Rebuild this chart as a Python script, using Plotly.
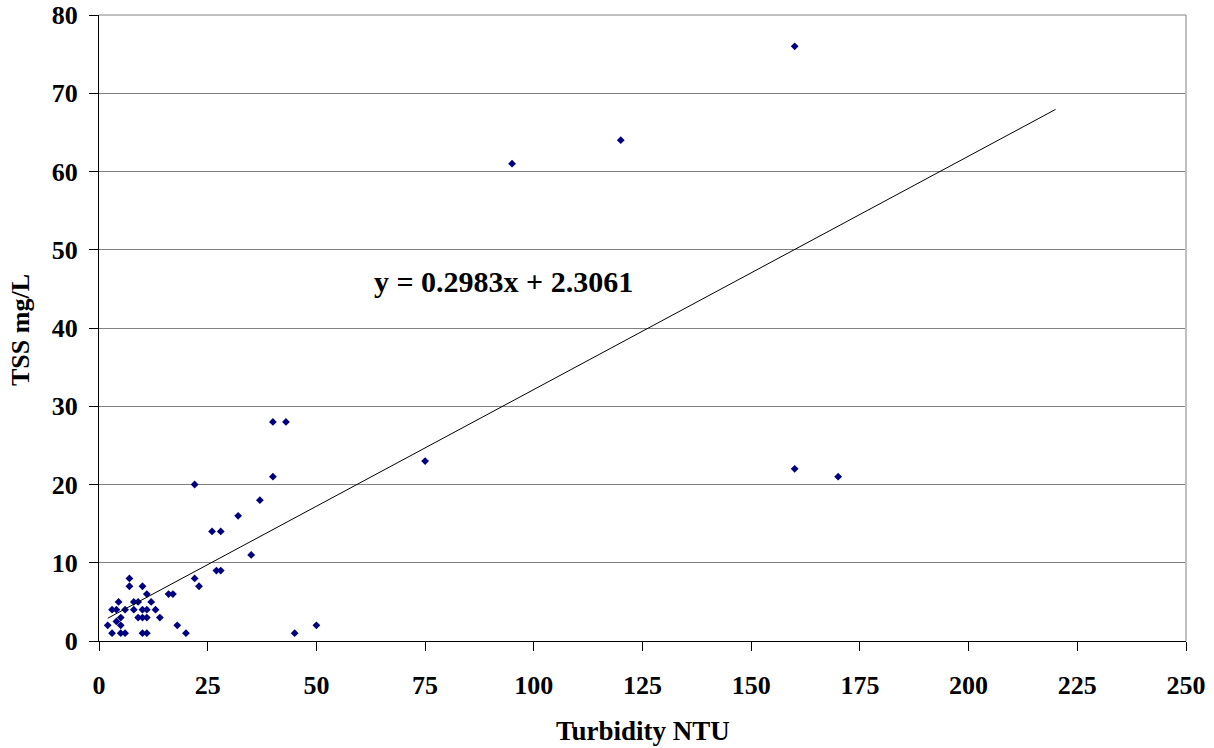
import plotly.graph_objects as go

turbidity_ntu = [2, 3, 3, 4, 4, 4.5, 5, 5, 5, 6, 6, 7, 7, 8, 8, 9, 9, 10, 10, 10, 10,
                 11, 11, 11, 11, 12, 13, 14, 16, 17, 18, 20, 22, 23, 22, 26, 28, 27, 28,
                 32, 35, 37, 40, 40, 43, 45, 50, 75, 95, 120, 160, 160, 170]
tss_mg_l = [2, 1, 4, 4, 2.5, 5, 3, 2, 1, 1, 4, 7, 8, 5, 4, 5, 3, 7, 4, 3, 1,
            4, 3, 1, 6, 5, 4, 3, 6, 6, 2, 1, 8, 7, 20, 14, 14, 9, 9,
            16, 11, 18, 21, 28, 28, 1, 2, 23, 61, 64, 76, 22, 21]

trend_slope = 0.2983
trend_intercept = 2.3061
trend_x = [2, 220]
trend_y = [trend_slope * v + trend_intercept for v in trend_x]
equation_text = "y = 0.2983x + 2.3061"

x_ticks = [0, 25, 50, 75, 100, 125, 150, 175, 200, 225, 250]
y_ticks = [0, 10, 20, 30, 40, 50, 60, 70, 80]
x_title = "Turbidity NTU"
y_title = "TSS mg/L"

FONT = "Liberation Serif"

# plot area at page x 99..1186, y 15..641
PW, PH = 1087, 626

fig = go.Figure()
fig.add_trace(go.Scatter(
    x=turbidity_ntu, y=tss_mg_l, mode="markers",
    marker=dict(symbol="diamond", size=6, color="#000080"),
    showlegend=False, hoverinfo="x+y"))
fig.add_trace(go.Scatter(
    x=trend_x, y=trend_y, mode="lines",
    line=dict(color="black", width=1), showlegend=False, hoverinfo="skip"))

fig.add_annotation(x=93.0, y=46.0, xref="x", yref="y", text="<b>" + equation_text + "</b>",
                   showarrow=False, font=dict(family=FONT, size=30, color="black"))
fig.add_annotation(x=(642.5 - 99) / PW, y=(641 - 731) / PH, xref="paper", yref="paper",
                   text="<b>" + x_title + "</b>", showarrow=False,
                   xanchor="center", yanchor="middle",
                   font=dict(family=FONT, size=27, color="black"))
fig.add_annotation(x=(21 - 99) / PW, y=(641 - 330) / PH, xref="paper", yref="paper",
                   text="<b>" + y_title + "</b>", showarrow=False, textangle=-90,
                   xanchor="center", yanchor="middle",
                   font=dict(family=FONT, size=26, color="black"))

fig.update_layout(
    width=1214, height=748,
    margin=dict(l=99, r=28, t=15, b=107, autoexpand=False),
    paper_bgcolor="white", plot_bgcolor="white",
    font=dict(family=FONT, color="black"),
    xaxis=dict(range=[0, 250], tickvals=x_ticks, ticktext=["<b>%d</b>" % v for v in x_ticks],
               showgrid=False, zeroline=False, showline=True, linecolor="black", linewidth=1,
               ticks="outside", ticklen=9, tickcolor="black", tickwidth=1,
               tickfont=dict(family=FONT, size=26, color="black"),
               ticklabelstandoff=12, automargin=False, ticklabeloverflow="allow"),
    yaxis=dict(range=[0, 80], tickvals=y_ticks, ticktext=["<b>%d</b>" % v for v in y_ticks],
               showgrid=True, gridcolor="#808080", gridwidth=1, zeroline=False,
               showline=True, linecolor="black", linewidth=1,
               ticks="outside", ticklen=9, tickcolor="black", tickwidth=1,
               tickfont=dict(family=FONT, size=26, color="black"),
               ticklabelstandoff=6, automargin=False, ticklabeloverflow="allow"),
    shapes=[dict(type="line", xref="paper", yref="paper", x0=1, x1=1, y0=0, y1=1,
                 line=dict(color="#c0c0c0", width=2)),
            dict(type="line", xref="paper", yref="paper", x0=0, x1=1, y0=1, y1=1,
                 line=dict(color="#808080", width=1))],
)

fig.write_html("out.html", config={"displayModeBar": False},
               post_script="document.body.style.margin='0';document.body.style.overflow='hidden';")
